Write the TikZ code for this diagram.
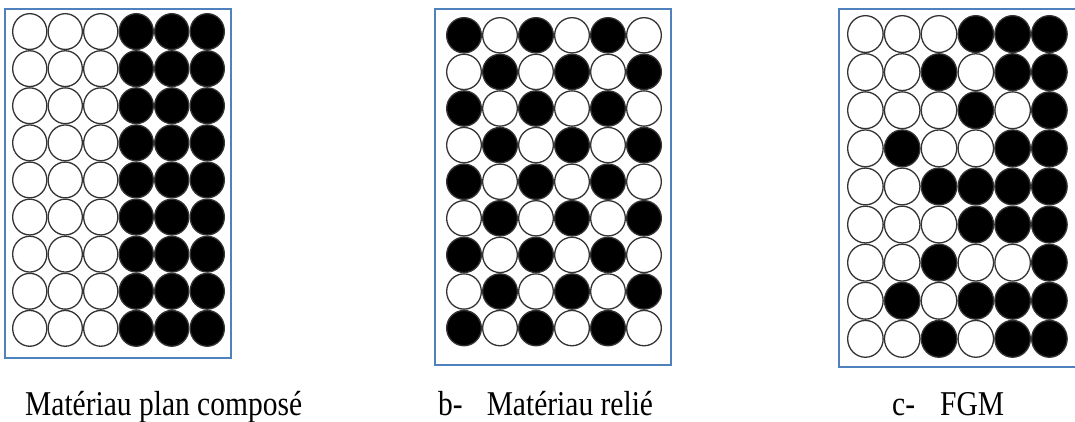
\documentclass[tikz,border=0pt]{standalone}
\usepackage{fontspec}
\setmainfont{Liberation Serif}
\usepackage{graphicx}
\definecolor{cadrebleu}{RGB}{79,129,189}

\begin{document}
\begin{tikzpicture}[
    x=1pt, y=-1pt,
    cadre/.style={draw=cadrebleu, line width=1.6pt},
    bille/.style={draw=black!80, line width=1.3pt, fill=#1},
    lab/.style={inner sep=0pt, anchor=base west, font=\fontsize{29.5}{32}\selectfont},
  ]
  \useasboundingbox[fill=white] (0,0) rectangle (1075,421);

  %% ---- a: plan compose ------------------------------------------------
  \draw[cadre] (5,9) rectangle (231,358);
  \foreach \r in {0,...,8}
    \foreach \c in {0,...,5}{
      \ifnum\c<3 \def\coul{white}\else\def\coul{black}\fi
      \path[bille=\coul] (29.75+\c*35.5, 31.55+\r*37.1) ellipse [x radius=17.1, y radius=17.9];
    }

  %% ---- b: relie (damier) ----------------------------------------------
  \draw[cadre] (435,9) rectangle (671,365);
  \foreach \r in {0,...,8}
    \foreach \c in {0,...,5}{
      \pgfmathtruncatemacro\parite{mod(\r+\c,2)}
      \ifnum\parite=0 \def\coul{black}\else\def\coul{white}\fi
      \path[bille=\coul] (464+\c*36, 35.3+\r*36.6) ellipse [x radius=17.35, y radius=17.65];
    }

  %% ---- c: FGM ---------------------------------------------------------
  \draw[cadre] (1077,9) -- (839,9) -- (839,367) -- (1077,367);
  \foreach \ligne [count=\r from 0] in {
      {white,white,white,black,black,black},
      {white,white,black,white,black,black},
      {white,white,white,black,white,black},
      {white,black,white,white,black,black},
      {white,white,black,black,black,black},
      {white,white,white,black,black,black},
      {white,white,black,white,white,black},
      {white,black,white,black,black,black},
      {white,white,black,white,black,black}}
    \foreach \coul [count=\c from 0] in \ligne
      \path[bille=\coul] (865.4+\c*36.8, 34.05+\r*38.1) ellipse [x radius=17.75, y radius=18.4];

  %% ---- legendes -------------------------------------------------------
  \node[lab] (laba) at (25,415)  {\scalebox{1}[1.18]{Matériau plan composé}};
  \node[lab] (labb) at (438,415) {\scalebox{1}[1.18]{b-\hspace{24pt}Matériau relié}};
  \node[lab] (labc) at (892,415) {\scalebox{1}[1.18]{c-\hspace{25pt}FGM}};
\end{tikzpicture}
\end{document}
